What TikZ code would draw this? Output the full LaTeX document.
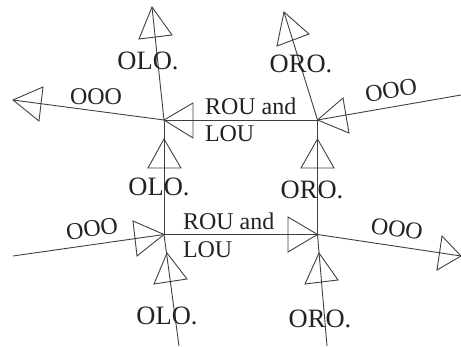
\documentclass[tikz,border=0pt]{standalone}
\usepackage{fontspec}
\setmainfont{Liberation Serif}
\definecolor{ink}{HTML}{222222}
\definecolor{wire}{HTML}{404040}
\tikzset{
  wireline/.style={draw=wire,line width=0.9pt,line join=miter},
  lab/.style={text=ink,inner sep=0pt,outer sep=0pt,font=\fontsize{26.5}{26.5}\selectfont},
  labsm/.style={text=ink,inner sep=0pt,outer sep=0pt,font=\fontsize{24}{24}\selectfont},
}
\newcommand{\tri}[3]{\draw[wireline] (#1) -- (#2) -- (#3) -- cycle;}
\begin{document}
\begin{tikzpicture}[x=1pt,y=-1pt]
\useasboundingbox (0,0) rectangle (461,347);
% junctions
\coordinate (A) at (164,120);
\coordinate (B) at (317.5,120);
\coordinate (C) at (164,234.5);
\coordinate (D) at (317.5,234.5);
% free ends
\coordinate (At) at (152,7);
\coordinate (Al) at (13,100);
\coordinate (Bt) at (284,12);
\coordinate (Br) at (461,95);
\coordinate (Cl) at (13,256);
\coordinate (Cb) at (179,346);
\coordinate (Dr) at (461,256);
\coordinate (Db) at (327,346);
% lines
\draw[wireline] (A) -- (At);
\draw[wireline] (A) -- (Al);
\draw[wireline] (A) -- (B);
\draw[wireline] (A) -- (C);
\draw[wireline] (B) -- (Bt);
\draw[wireline] (B) -- (Br);
\draw[wireline] (B) -- (D);
\draw[wireline] (C) -- (D);
\draw[wireline] (C) -- (Cl);
\draw[wireline] (C) -- (Cb);
\draw[wireline] (D) -- (Dr);
\draw[wireline] (D) -- (Db);
% triangles
\tri{At}{139,39}{172,35}
\tri{Al}{43,87}{39,121}
\tri{A}{193,103}{193,138}
\tri{164,139}{148,168}{181,168}
\tri{Bt}{277,46}{309,34}
\tri{B}{343,98}{349,133}
\tri{317.5,139}{301,168}{334,168}
\tri{C}{133,221}{137,256}
\tri{D}{288,217}{288,252}
\tri{167,253}{154,284}{187,279}
\tri{Dr}{442,236}{437,270}
\tri{319,253}{305,284}{338,280}
% labels
\node[lab] (l1) at (148,60.5) {OLO.};
\node[lab] (l2) at (301,63.5) {ORO.};
\node[lab] (l3) at (159,187) {OLO.};
\node[lab] (l4) at (312,190) {ORO.};
\node[lab] (l5) at (167,316) {OLO.};
\node[lab] (l6) at (320,319) {ORO.};
\node[labsm] (o1) at (96,96.5) {OOO};
\node[labsm,rotate=9] (o2) at (391,90.5) {OOO};
\node[labsm,rotate=8] (o3) at (92,229) {OOO};
\node[labsm,rotate=-8] (o4) at (397,229) {OOO};
\node[labsm,anchor=west] (r1) at (205,106) {ROU and};
\node[labsm,anchor=west] (r2) at (205,134) {LOU};
\node[labsm,anchor=west] (r3) at (183,221) {ROU and};
\node[labsm,anchor=west] (r4) at (183,250) {LOU};
\end{tikzpicture}
\end{document}
